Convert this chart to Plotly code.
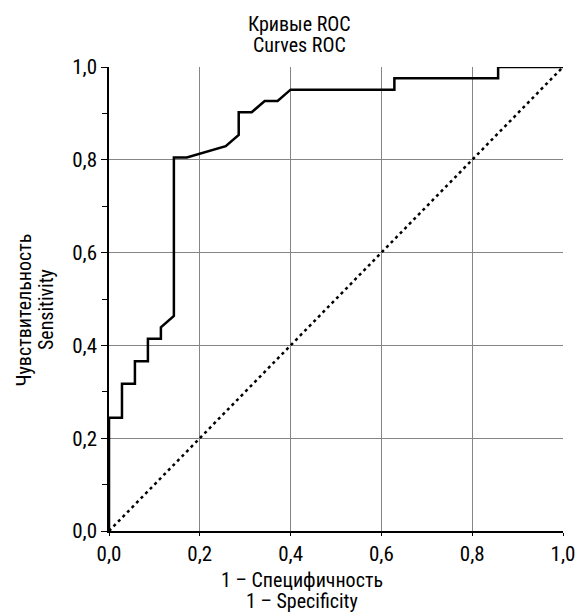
import plotly.graph_objects as go

# ROC curve points (1 - specificity, sensitivity)
fpr = [0.0, 0.0, 0.0286, 0.0286, 0.0571, 0.0571, 0.0857, 0.0857, 0.1143, 0.1143,
       0.1429, 0.1429, 0.1714, 0.2571, 0.2857, 0.2857, 0.3143, 0.3429, 0.3714,
       0.4, 0.6286, 0.6286, 0.8571, 0.8571, 1.0]
tpr = [0.0, 0.2439, 0.2439, 0.3171, 0.3171, 0.3659, 0.3659, 0.4146, 0.4146, 0.4390,
       0.4634, 0.8049, 0.8049, 0.8293, 0.8537, 0.9024, 0.9024, 0.9268, 0.9268,
       0.9512, 0.9512, 0.9756, 0.9756, 1.0, 1.0]
ref_x = [0.0, 1.0]
ref_y = [0.0, 1.0]
tick_vals = [0.0, 0.2, 0.4, 0.6, 0.8, 1.0]
tick_text = ["0,0", "0,2", "0,4", "0,6", "0,8", "1,0"]
title_lines = ["Кривые ROC", "Curves ROC"]
xtitle_lines = ["1 – Специфичность", "1 – Specificity"]
ytitle_lines = ["Чувствительность", "Sensitivity"]

FONT = "Liberation Sans Narrow, Arial Narrow, Roboto Condensed, Liberation Sans, sans-serif"

# page is offset by the default 8px body margin
OFF = 8
PL, PR, PT, PB = 109, 571, 67, 531  # desired plot-area edges in page pixels
W, H = 587 - OFF, 613 - OFF


def px(x):
    return (x - PL) / (PR - PL)


def py(y):
    return (PB - y) / (PB - PT)


fig = go.Figure()
fig.add_trace(go.Scatter(x=ref_x, y=ref_y, mode="lines",
                         line=dict(color="black", width=2.5, dash="3px,3.5px"),
                         hoverinfo="skip", showlegend=False))
fig.add_trace(go.Scatter(x=fpr, y=tpr, mode="lines",
                         line=dict(color="black", width=2.5),
                         showlegend=False))

fig.update_layout(
    width=W, height=H,
    margin=dict(l=PL - OFF, r=W - (PR - OFF), t=PT - OFF, b=H - (PB - OFF)),
    paper_bgcolor="white", plot_bgcolor="white",
    font=dict(family=FONT, color="black", size=20),
    showlegend=False,
)
axis_common = dict(range=[0, 1], tickvals=tick_vals, ticktext=tick_text,
                   showgrid=True, gridcolor="#858585", gridwidth=1,
                   showline=True, linecolor="black", linewidth=1.5,
                   ticks="outside", tickcolor="black",
                   zeroline=False, tickfont=dict(size=21, family=FONT))
fig.update_xaxes(**axis_common, ticklen=3)
fig.update_yaxes(**axis_common, ticklen=6,
                 minor=dict(tickvals=[0.1, 0.3, 0.5, 0.7, 0.9], ticks="outside",
                            ticklen=5, tickcolor="black", showgrid=False))

for txt, yy in zip(title_lines, [24, 45]):
    fig.add_annotation(text=txt, xref="paper", yref="paper", x=px(303), y=py(yy),
                       xanchor="center", yanchor="middle", showarrow=False,
                       font=dict(size=20, family=FONT))
for txt, yy in zip(xtitle_lines, [580, 601]):
    fig.add_annotation(text=txt, xref="paper", yref="paper", x=px(305), y=py(yy),
                       xanchor="center", yanchor="middle", showarrow=False,
                       font=dict(size=20, family=FONT))
for txt, xx in zip(ytitle_lines, [22, 45]):
    fig.add_annotation(text=txt, xref="paper", yref="paper", x=px(xx), y=py(310),
                       xanchor="center", yanchor="middle", textangle=-90,
                       showarrow=False, font=dict(size=20, family=FONT))

fig.write_html("out.html")
